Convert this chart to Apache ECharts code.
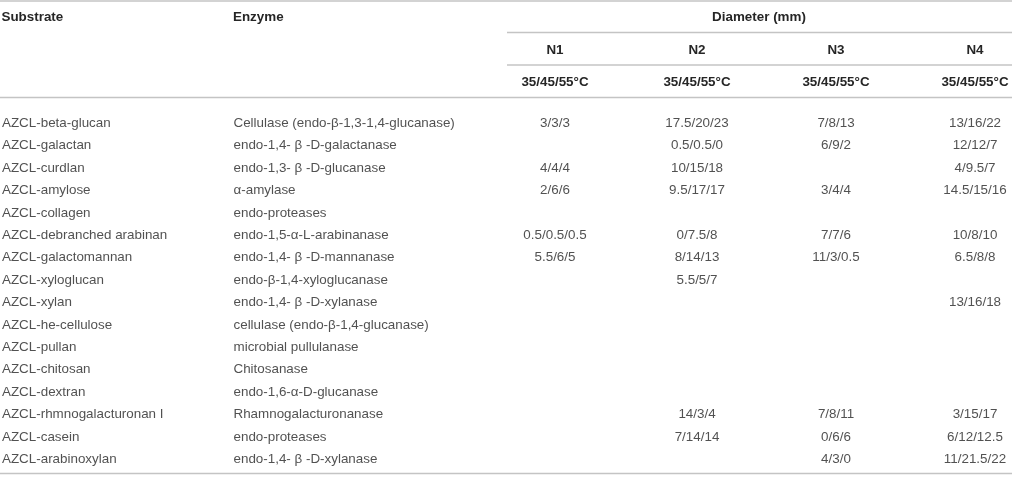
<!DOCTYPE html>
<html>
<head>
<meta charset="utf-8">
<script src="https://cdn.jsdelivr.net/npm/echarts@6/dist/echarts.min.js"></script>
<style>
html,body{margin:0;padding:0;background:#fff;}
#chart{width:1012px;height:478px;}
</style>
</head>
<body>
<div id="chart"></div>
<script>
// ---- table content ----
const headerSubstrate = 'Substrate';
const headerEnzyme = 'Enzyme';
const groupHeader = 'Diameter (mm)';
const strains = ['N1', 'N2', 'N3', 'N4'];
const tempLabel = '35/45/55°C';

const substrates = [
  'AZCL-beta-glucan', 'AZCL-galactan', 'AZCL-curdlan', 'AZCL-amylose',
  'AZCL-collagen', 'AZCL-debranched arabinan', 'AZCL-galactomannan', 'AZCL-xyloglucan',
  'AZCL-xylan', 'AZCL-he-cellulose', 'AZCL-pullan', 'AZCL-chitosan',
  'AZCL-dextran', 'AZCL-rhmnogalacturonan I', 'AZCL-casein', 'AZCL-arabinoxylan'
];
const enzymes = [
  'Cellulase (endo-β-1,3-1,4-glucanase)', 'endo-1,4- β -D-galactanase', 'endo-1,3- β -D-glucanase', 'α-amylase',
  'endo-proteases', 'endo-1,5-α-L-arabinanase', 'endo-1,4- β -D-mannanase', 'endo-β-1,4-xyloglucanase',
  'endo-1,4- β -D-xylanase', 'cellulase (endo-β-1,4-glucanase)', 'microbial pullulanase', 'Chitosanase',
  'endo-1,6-α-D-glucanase', 'Rhamnogalacturonanase', 'endo-proteases', 'endo-1,4- β -D-xylanase'
];
const n1 = ['3/3/3', '', '4/4/4', '2/6/6', '', '0.5/0.5/0.5', '5.5/6/5', '', '', '', '', '', '', '', '', ''];
const n2 = ['17.5/20/23', '0.5/0.5/0', '10/15/18', '9.5/17/17', '', '0/7.5/8', '8/14/13', '5.5/5/7', '', '', '', '', '', '14/3/4', '7/14/14', ''];
const n3 = ['7/8/13', '6/9/2', '', '3/4/4', '', '7/7/6', '11/3/0.5', '', '', '', '', '', '', '7/8/11', '0/6/6', '4/3/0'];
const n4 = ['13/16/22', '12/12/7', '4/9.5/7', '14.5/15/16', '', '10/8/10', '6.5/8/8', '', '13/16/18', '', '', '', '', '3/15/17', '6/12/12.5', '11/21.5/22'];

// ---- layout / style ----
const W = 1012, H = 478;
const FONT = '"Liberation Sans", Arial, Helvetica, sans-serif';
const FS = 13.4;
const TXT = '#262626';
const LINE = '#c4c4c4';
const colSubX = 1.5, colEnzX = 233;
const strainX = [555, 697, 836, 975];
const rowTop = 112.2, rowH = 22.4;

const chart = echarts.init(document.getElementById('chart'), null, {renderer: 'canvas'});

function textSeries(values, x, align) {
  const data = [];
  values.forEach((v, i) => { if (v) data.push([x, i, v]); });
  return {
    type: 'scatter',
    silent: true,
    symbolSize: 1,
    itemStyle: {color: 'transparent'},
    encode: {x: 0, y: 1},
    data: data,
    label: {
      show: true,
      position: align === 'left' ? 'right' : 'inside',
      distance: 0,
      align: align,
      verticalAlign: 'middle',
      color: TXT,
      fontFamily: FONT,
      fontSize: FS,
      formatter: p => p.value[2]
    }
  };
}

const series = [
  textSeries(substrates, colSubX, 'left'),
  textSeries(enzymes, colEnzX, 'left'),
  textSeries(n1, strainX[0], 'center'),
  textSeries(n2, strainX[1], 'center'),
  textSeries(n3, strainX[2], 'center'),
  textSeries(n4, strainX[3], 'center')
];

function hText(t, x, y, align) {
  return {
    type: 'text', x: x, y: y, silent: true,
    style: {text: t, x: 0, y: 0, align: align, verticalAlign: 'middle',
            fill: TXT, font: 'bold ' + FS + 'px ' + FONT}
  };
}
function hLine(x1, x2, y) {
  return {type: 'line', silent: true, shape: {x1: x1, y1: y, x2: x2, y2: y},
          style: {stroke: LINE, lineWidth: 1.5}};
}

const graphics = [
  hLine(0, W, 1),
  hLine(507, W, 32.5),
  hLine(507, W, 65),
  hLine(0, W, 97.5),
  hLine(0, W, 473.5),
  hText(headerSubstrate, colSubX, 17.5, 'left'),
  hText(headerEnzyme, colEnzX, 17.5, 'left'),
  hText(groupHeader, 759, 17.5, 'center')
];
strains.forEach((s, i) => {
  graphics.push(hText(s, strainX[i], 50, 'center'));
  graphics.push(hText(tempLabel, strainX[i], 82, 'center'));
});

chart.setOption({
  animation: false,
  backgroundColor: '#fff',
  grid: {left: 0, right: 0, top: rowTop, height: rowH * substrates.length, containLabel: false},
  xAxis: {type: 'value', min: 0, max: W, show: false},
  yAxis: {type: 'category', data: substrates.map((s, i) => String(i)), inverse: true, show: false},
  series: series,
  graphic: graphics
});
</script>
</body>
</html>
